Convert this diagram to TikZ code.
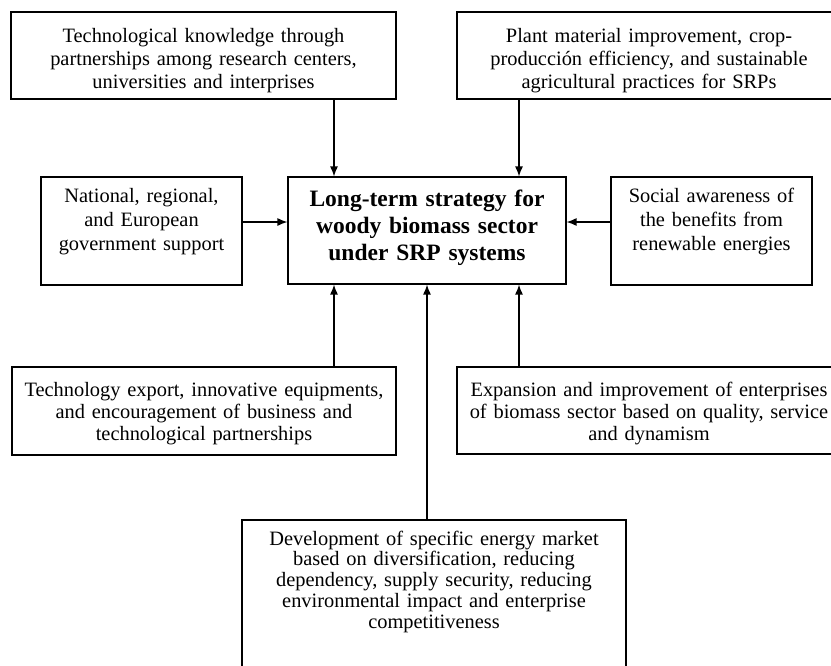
\documentclass[tikz,border=0pt]{standalone}
\usepackage{fontspec}
\setmainfont{Liberation Serif}
\usetikzlibrary{arrows.meta}

\begin{document}
\begin{tikzpicture}[
  x=1pt, y=-1pt,
  box/.style={draw, line width=1.1pt, align=center, inner xsep=0pt, inner ysep=0pt,
    anchor=base, font=\fontsize{20.4}{23}\selectfont},
  arrow/.style={-{Latex[length=10pt, width=8pt]}, line width=1.3pt}
]
\useasboundingbox (0,0) rectangle (831,665);
\clip (0,0) rectangle (831,665);

% top row
\node[box, text width=385pt, text height=30.3pt, text depth=56.7pt] (know) at (203.5,42.3)
  {Technological knowledge through\\partnerships among research centers,\\universities and interprises};
\node[box, text width=384pt, text height=30.3pt, text depth=56.7pt] (plant) at (649,42.3)
  {Plant material improvement, crop-\\producción efficiency, and sustainable\\agricultural practices for SRPs};

% middle row
\node[box, text width=201pt, text height=25.7pt, text depth=82.3pt,
  font=\fontsize{20.4}{23.7}\selectfont] (natl) at (141.5,202.7)
  {National, regional,\\and European\\government support};
\node[box, text width=278pt, text height=29pt, text depth=78pt,
  font=\bfseries\fontsize{23.5}{27.3}\selectfont] (strat) at (427,206)
  {Long-term strategy for\\woody biomass sector\\under SRP systems};
\node[box, text width=201pt, text height=25.7pt, text depth=82.3pt,
  font=\fontsize{20.4}{23.7}\selectfont] (social) at (711.5,202.7)
  {Social awareness of\\the benefits from\\renewable energies};

% bottom row
\node[box, text width=384pt, text height=29pt, text depth=59pt,
  font=\fontsize{20.4}{22}\selectfont] (techexp) at (204,396)
  {Technology export, innovative equipments,\\and encouragement of business and\\technological partnerships};
\node[box, text width=384pt, text height=29pt, text depth=58pt,
  font=\fontsize{20.4}{22}\selectfont] (expan) at (649,396)
  {Expansion and improvement of enterprises\\of biomass sector based on quality, service\\and dynamism};
\node[box, text width=384pt, text height=25pt, text depth=175pt,
  font=\fontsize{20.4}{20.8}\selectfont] (market) at (434,545)
  {Development of specific energy market\\based on diversification, reducing\\dependency, supply security, reducing\\environmental impact and enterprise\\competitiveness};

\coordinate (colL) at (334,0);
\coordinate (colR) at (519,0);
\coordinate (rowM) at (0,222);

\draw[arrow] (know.south -| colL) -- (strat.north -| colL);
\draw[arrow] (plant.south -| colR) -- (strat.north -| colR);
\draw[arrow] (natl.east |- rowM) -- (strat.west |- rowM);
\draw[arrow] (social.west |- rowM) -- (strat.east |- rowM);
\draw[arrow] (techexp.north -| colL) -- (strat.south -| colL);
\draw[arrow] (market.north -| strat.south) -- (strat.south);
\draw[arrow] (expan.north -| colR) -- (strat.south -| colR);

\end{tikzpicture}
\end{document}
